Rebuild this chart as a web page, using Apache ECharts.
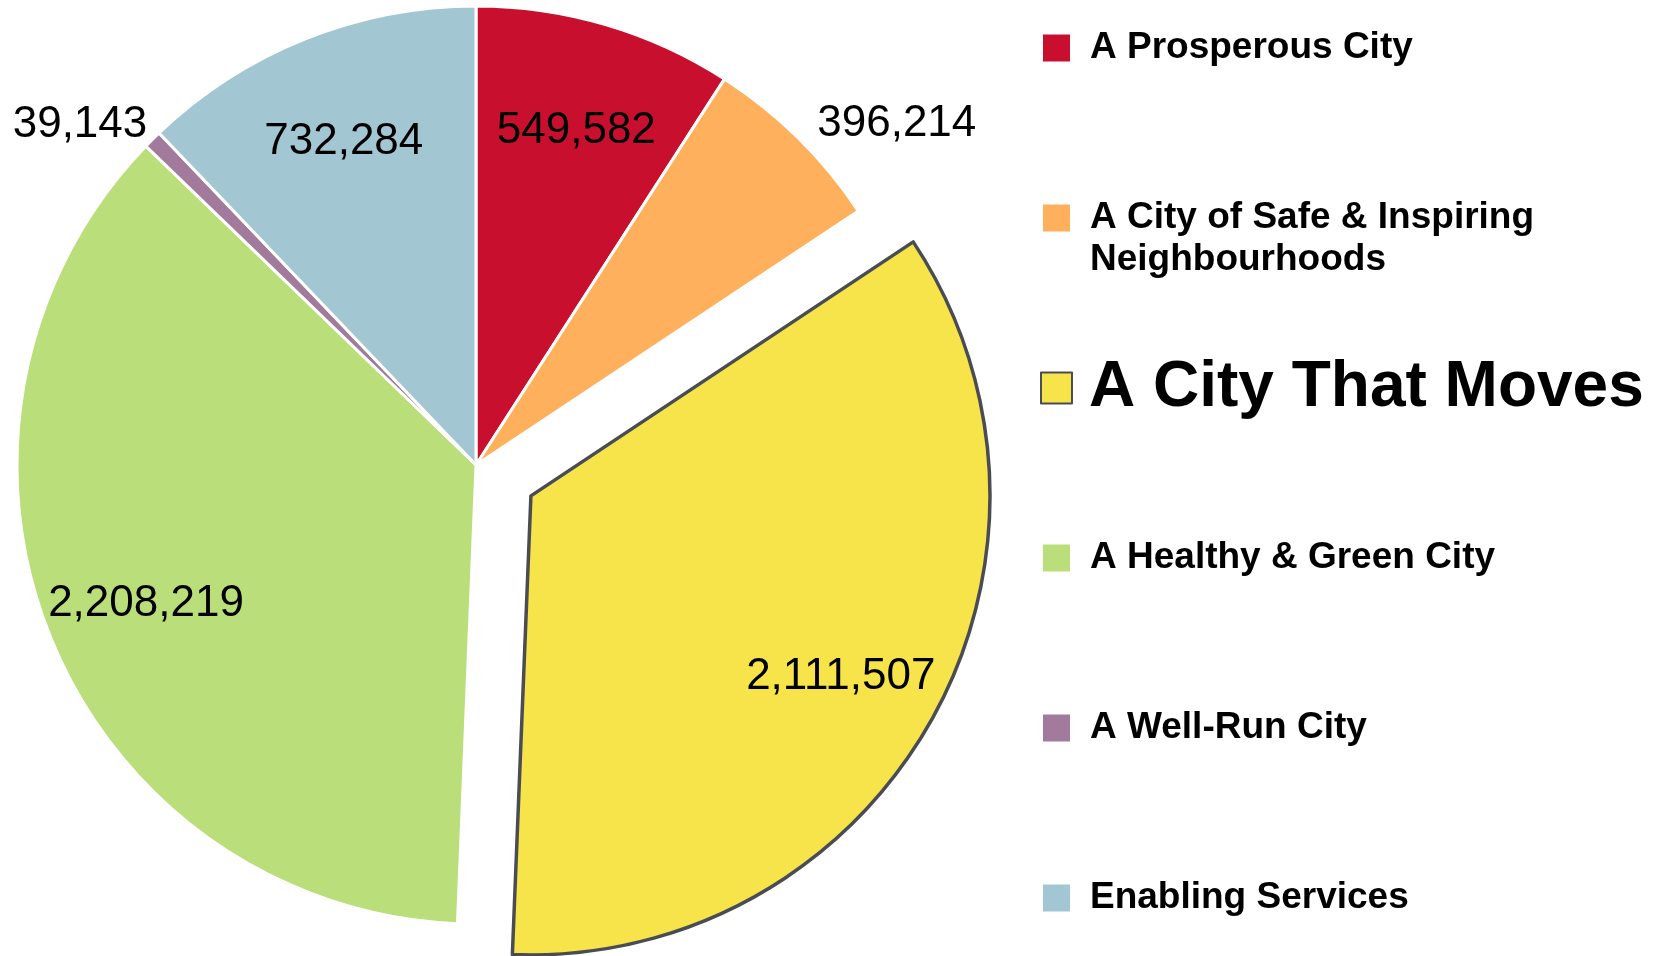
<!DOCTYPE html>
<html>
<head>
<meta charset="utf-8">
<script src="https://cdn.jsdelivr.net/npm/echarts@6/dist/echarts.min.js"></script>
<style>
html, body { margin: 0; padding: 0; background: #fff; }
#chart { width: 1662px; height: 956px; }
</style>
</head>
<body>
<div id="chart"></div>
<script>
var categories = ["A Prosperous City", "A City of Safe & Inspiring Neighbourhoods", "A City That Moves", "A Healthy & Green City", "A Well-Run City", "Enabling Services"];
var amounts = [549582, 396214, 2111507, 2208219, 39143, 732284];
var colors = ["#c8102e", "#ffb05c", "#f7e34a", "#b9de7a", "#a17a9c", "#a3c6d3"];
var outsideLabels = ["A City of Safe & Inspiring Neighbourhoods", "A Well-Run City"];
var featured = "A City That Moves";

var font = "Liberation Sans, Arial, Helvetica, sans-serif";
var cx = 476, cy = 465, r = 459;

function fmt(v) {
    return v.toLocaleString("en-US");
}

var pieData = categories.map(function (name, i) {
    var item = {name: name, value: amounts[i], itemStyle: {color: colors[i]}};
    if (name === featured) {
        item.selected = true;
        item.itemStyle.borderColor = "#4a4c54";
        item.itemStyle.borderWidth = 3.5;
    }
    return item;
});

// second, invisible ring only carries the value labels
var labelData = categories.map(function (name, i) {
    var item = {name: name, value: amounts[i], selected: name === featured};
    if (outsideLabels.indexOf(name) >= 0) {
        item.label = {position: "outside", distanceToLabelLine: name === "A Well-Run City" ? -9 : 5};
    }
    return item;
});

var legends = categories.map(function (name, i) {
    var big = name === featured;
    var lh = big ? 75 : 42;
    var twoLine = name.indexOf("Neighbourhoods") >= 0;
    var center = 48 + 170 * i;
    return {
        orient: "vertical",
        left: big ? 1040 : 1043,
        top: twoLine ? center - 1.5 * lh : center - lh / 2,
        padding: 0,
        icon: "rect",
        itemWidth: big ? 31 : 27,
        itemHeight: big ? 31 : 27,
        itemStyle: big ? {} : {borderWidth: 0},
        data: [name],
        formatter: function (n) {
            // empty first line keeps the icon level with the first real line
            return n.indexOf("Neighbourhoods") >= 0 ? "\n" + n.replace(" Neighbourhoods", "\nNeighbourhoods") : n;
        },
        textStyle: {
            fontFamily: font,
            fontWeight: "bold",
            fontSize: big ? 64 : 37,
            lineHeight: lh,
            color: "#000",
            padding: [0, 0, 0, big ? 12 : 15]
        }
    };
});

var chart = echarts.init(document.getElementById("chart"));
chart.setOption({
    backgroundColor: "#fff",
    animation: false,
    legend: legends,
    series: [
        {
            type: "pie",
            center: [cx, cy],
            radius: r,
            startAngle: 90,
            clockwise: true,
            selectedMode: "single",
            selectedOffset: 63,
            avoidLabelOverlap: false,
            itemStyle: {borderColor: "#fff", borderWidth: 3},
            label: {show: false},
            labelLine: {show: false},
            emphasis: {scale: false},
            data: pieData
        },
        {
            type: "pie",
            silent: true,
            center: [cx, cy],
            radius: [246, r],
            startAngle: 90,
            clockwise: true,
            selectedMode: "single",
            selectedOffset: 63,
            avoidLabelOverlap: false,
            itemStyle: {color: "transparent", borderWidth: 0},
            label: {
                show: true,
                position: "inside",
                formatter: function (p) { return fmt(p.value); },
                fontFamily: font,
                fontSize: 44,
                color: "#000"
            },
            labelLine: {show: false, length: 20, length2: 0},
            labelLayout: function (params) {
                return outsideLabels.indexOf(categories[params.dataIndex]) >= 0 ? {} : {dy: 7};
            },
            data: labelData
        }
    ]
});

window.onresize = function () {
    chart.resize();
};
</script>
</body>
</html>
